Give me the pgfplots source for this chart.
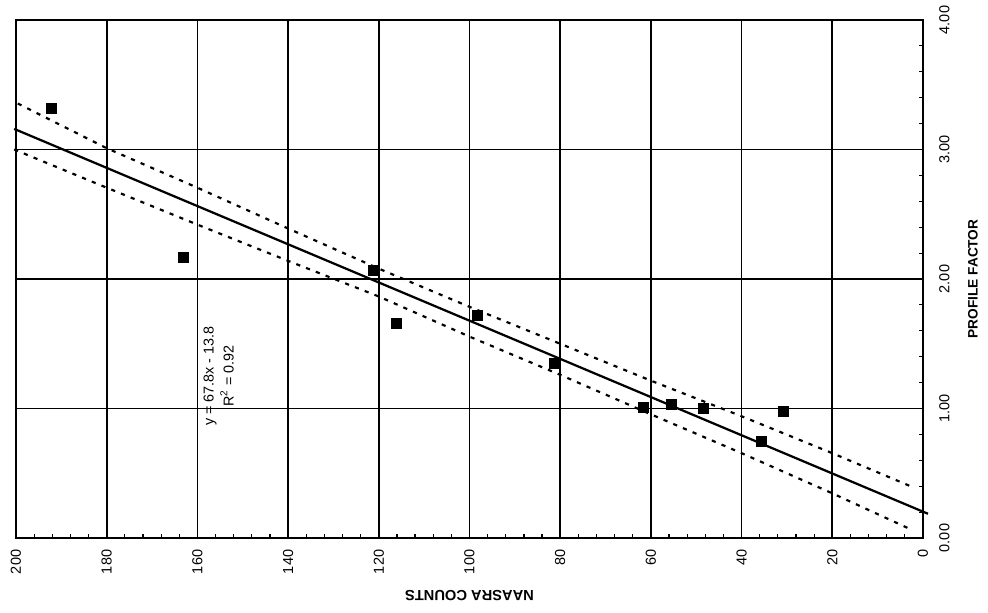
\documentclass[border=0pt]{standalone}
\usepackage{pgfplots}
\pgfplotsset{compat=1.18}
\usepackage{fontspec}
\setmainfont{Liberation Sans}
\begin{document}
\begin{tikzpicture}
\begin{axis}[
  scale only axis,
  width=544.2pt, height=310.8pt,
  xmin=0, xmax=200, ymin=0, ymax=4,
  x dir=reverse,
  clip=false,
  xtick={0,20,...,200},
  ytick={0,1,2,3,4},
  minor x tick num=4,
  minor y tick num=4,
  grid=major,
  major grid style={black, line width=1.05pt},
  axis line style={black, line width=1.2pt},
  xtick pos=left, ytick pos=right,
  xticklabel pos=left, yticklabel pos=right,
  tick align=inside,
  major tick length=3pt, minor tick length=2.2pt,
  tick style={black, line width=0.7pt},
  scaled y ticks=false,
  /pgf/number format/assume math mode=true,
  xticklabel style={font=\fontsize{8.7}{10}\selectfont, rotate=90, anchor=east, inner xsep=6.9pt},
  yticklabel style={font=\fontsize{8.7}{10}\selectfont, rotate=90, anchor=north, inner ysep=9.6pt,
    /pgf/number format/fixed, /pgf/number format/fixed zerofill, /pgf/number format/precision=2},
  xlabel={NAASRA COUNTS},
  ylabel={PROFILE FACTOR},
  every axis x label/.style={at={(axis description cs:0.5,-0.112)}, rotate=180, anchor=center, font=\bfseries\fontsize{8.8}{10}\selectfont},
  every axis y label/.style={at={(axis description cs:1.055,0.5)}, rotate=90, anchor=center, font=\bfseries\fontsize{8.2}{10}\selectfont},
]
% regression line
\addplot[black, line width=1.35pt] coordinates {(200.4,3.159) (-1.1,0.187)};
% upper confidence band
\addplot[black, line width=1.3pt, dash pattern=on 2.5pt off 3.8pt] coordinates {
(199.6,3.355) (180,3.010) (160,2.705) (140,2.390) (120,2.080) (100,1.785)
(80,1.500) (60,1.215) (40,0.940) (20,0.655) (1.8,0.386)};
% lower confidence band
\addplot[black, line width=1.3pt, dash pattern=on 2.5pt off 3.8pt] coordinates {
(200.4,3.000) (180,2.705) (160,2.420) (140,2.140) (120,1.865) (100,1.555)
(80,1.260) (60,0.955) (40,0.655) (20,0.345) (2.4,0.062)};
% data points
\addplot[only marks, mark=square*, mark size=3pt, black] coordinates {
(192.3,3.32) (163.2,2.17) (121.2,2.07) (116.2,1.66) (98.3,1.72) (81.3,1.35)
(61.6,1.01) (55.4,1.03) (48.5,1.00) (30.8,0.975) (35.7,0.75)};
\node[rotate=90, align=center, font=\fontsize{8.6}{12}\selectfont] at (axis cs:155.3,1.251)
  {y = 67.8x - 13.8\\R\textsuperscript{2} = 0.92};
\coordinate (ll) at (axis cs:200,0);
\coordinate (ur) at (axis cs:0,4);
\end{axis}
\pgfresetboundingbox
\path ([shift={(-9.6pt,-45pt)}]ll) rectangle ([shift={(39pt,12pt)}]ur);
\end{tikzpicture}
\end{document}
